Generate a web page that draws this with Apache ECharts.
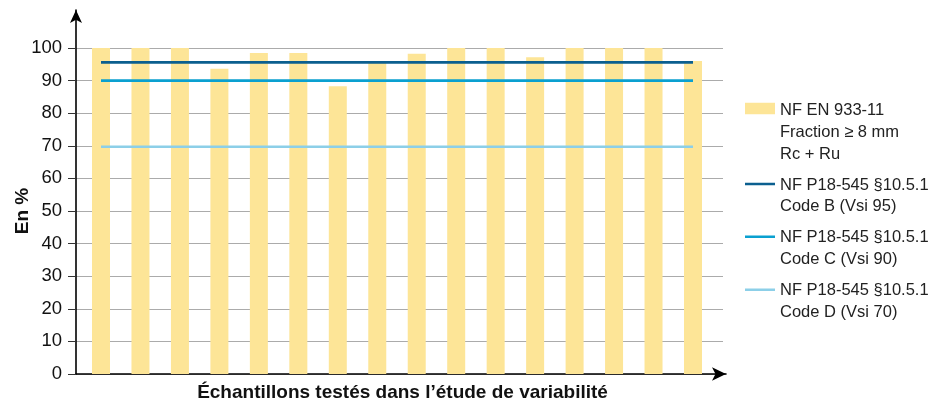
<!DOCTYPE html>
<html>
<head>
<meta charset="utf-8">
<script src="https://cdn.jsdelivr.net/npm/echarts@6/dist/echarts.min.js"></script>
<style>
  html, body { margin: 0; padding: 0; background: #ffffff; }
  #chart { width: 940px; height: 410px; }
</style>
</head>
<body>
<div id="chart"></div>
<script>
// ---- data ----
const samples = ['1', '2', '3', '4', '5', '6', '7', '8', '9', '10', '11', '12', '13', '14', '15', '16'];
const enValues = [100, 100, 100, 93.6, 98.5, 98.5, 88.3, 95.4, 98.2, 100, 100, 97.2, 100, 100, 100, 96.0];
const codeBValues = [95.6, 95.6, 95.6, 95.6, 95.6, 95.6, 95.6, 95.6, 95.6, 95.6, 95.6, 95.6, 95.6, 95.6, 95.6, 95.6];
const codeCValues = [90, 90, 90, 90, 90, 90, 90, 90, 90, 90, 90, 90, 90, 90, 90, 90];
const codeDValues = [69.7, 69.7, 69.7, 69.7, 69.7, 69.7, 69.7, 69.7, 69.7, 69.7, 69.7, 69.7, 69.7, 69.7, 69.7, 69.7];
const yTicks = [0, 10, 20, 30, 40, 50, 60, 70, 80, 90, 100];
const seriesNames = [
  'NF EN 933-11\nFraction ≥ 8 mm\nRc + Ru',
  'NF P18-545 §10.5.1\nCode B (Vsi 95)',
  'NF P18-545 §10.5.1\nCode C (Vsi 90)',
  'NF P18-545 §10.5.1\nCode D (Vsi 70)'
];
const seriesColors = ['#fde597', '#0b5f8f', '#0aa0d0', '#8ccfe8'];
const xTitle = 'Échantillons testés dans l’étude de variabilité';
const yTitle = 'En %';

// ---- chart ----
const FONT = '"Liberation Sans", Arial, sans-serif';
const chart = echarts.init(document.getElementById('chart'), null, { renderer: 'canvas' });
const yMin = yTicks[0], yMax = yTicks[yTicks.length - 1];
const yStep = yTicks[1] - yTicks[0];

const LH = 21.7;
const barIcon = 'path://M0,0h0.01v0.01h-0.01zM0,3H30V14.3H0ZM29.99,65.09h0.01v0.01h-0.01z';
const lineIcon = 'path://M0,0h0.01v0.01h-0.01zM0,8.55H30V11.15H0ZM29.99,43.39h0.01v0.01h-0.01z';
const legendBase = {
  orient: 'vertical', left: 745, padding: 0,
  itemWidth: 30, itemTextGap: 7, itemGap: 0,
  itemStyle: { borderWidth: 0 },
  textStyle: { fontFamily: FONT, fontSize: 16.5, lineHeight: LH, color: '#222' }
};
const legendTops = [99.85, 174.15, 226.85, 279.9];
const legends = seriesNames.map((n, i) => Object.assign({}, legendBase, {
  top: legendTops[i],
  itemHeight: i === 0 ? LH * 3 : LH * 2,
  data: [{ name: n, icon: i === 0 ? barIcon : lineIcon }]
}));
const hidden = { axisLine: { show: false }, axisTick: { show: false }, axisLabel: { show: false }, splitLine: { show: false } };

chart.setOption({
  animation: false,
  backgroundColor: '#ffffff',
  textStyle: { fontFamily: FONT },
  grid: [
    { left: 81.27, right: 227.27, top: 48, bottom: 36 },  // 0 data
    { left: 76, right: 217, top: 48, bottom: 36 },         // 1 ticks, grid lines, y name
    { left: 76, right: 214, top: 10, bottom: 36 },         // 2 axis lines with arrows
    { left: 82, right: 217, top: 48, bottom: 36 },         // 3 x title
    { left: 70, right: 217, top: 48, bottom: 36 }          // 4 y tick labels
  ],
  xAxis: [
    Object.assign({ gridIndex: 0, type: 'category', data: samples, boundaryGap: true }, hidden),
    Object.assign({ gridIndex: 1, type: 'value', min: 0, max: 1 }, hidden),
    Object.assign({ gridIndex: 2, type: 'value', min: 0, max: 1 }, hidden, {
      axisLine: { show: true, lineStyle: { color: '#000', width: 1.6 }, symbol: ['none', 'arrow'], symbolSize: [10, 14] }
    }),
    Object.assign({ gridIndex: 3, type: 'category', data: samples, boundaryGap: true }, hidden, {
      name: xTitle, nameLocation: 'middle', nameGap: 9,
      nameTextStyle: { fontFamily: FONT, fontWeight: 'bold', fontSize: 19, color: '#111' }
    }),
    Object.assign({ gridIndex: 4, type: 'value', min: 0, max: 1 }, hidden)
  ],
  yAxis: [
    Object.assign({ gridIndex: 0, type: 'value', min: yMin, max: yMax }, hidden),
    Object.assign({ gridIndex: 1, type: 'value', position: 'left', min: yMin, max: yMax, interval: yStep }, hidden, {
      axisTick: { show: true, inside: false, length: 8, lineStyle: { color: '#333', width: 1 } },
      splitLine: { show: true, lineStyle: { color: '#ababab', width: 1.2 } },
      name: yTitle, nameLocation: 'middle', nameGap: 44,
      nameTextStyle: { fontFamily: FONT, fontWeight: 'bold', fontSize: 19, color: '#111' }
    }),
    Object.assign({ gridIndex: 2, type: 'value', min: 0, max: 1 }, hidden, {
      axisLine: { show: true, lineStyle: { color: '#000', width: 1.6 }, symbol: ['none', 'arrow'], symbolSize: [9, 13] }
    }),
    Object.assign({ gridIndex: 3, type: 'value', min: yMin, max: yMax }, hidden),
    Object.assign({ gridIndex: 4, type: 'value', position: 'left', min: yMin, max: yMax, interval: yStep }, hidden, {
      axisLabel: { show: true, fontFamily: FONT, fontSize: 18.5, color: '#111' }
    })
  ],
  legend: legends,
  series: [
    { name: seriesNames[0], type: 'bar', xAxisIndex: 0, yAxisIndex: 0, barWidth: 18, itemStyle: { color: seriesColors[0] }, data: enValues, z: 1 },
    { name: seriesNames[1], type: 'line', xAxisIndex: 0, yAxisIndex: 0, symbol: 'none', lineStyle: { color: seriesColors[1], width: 2.6 }, itemStyle: { color: seriesColors[1] }, data: codeBValues, z: 3 },
    { name: seriesNames[2], type: 'line', xAxisIndex: 0, yAxisIndex: 0, symbol: 'none', lineStyle: { color: seriesColors[2], width: 2.6 }, itemStyle: { color: seriesColors[2] }, data: codeCValues, z: 3 },
    { name: seriesNames[3], type: 'line', xAxisIndex: 0, yAxisIndex: 0, symbol: 'none', lineStyle: { color: seriesColors[3], width: 2.6 }, itemStyle: { color: seriesColors[3] }, data: codeDValues, z: 3 }
  ]
});
</script>
</body>
</html>
